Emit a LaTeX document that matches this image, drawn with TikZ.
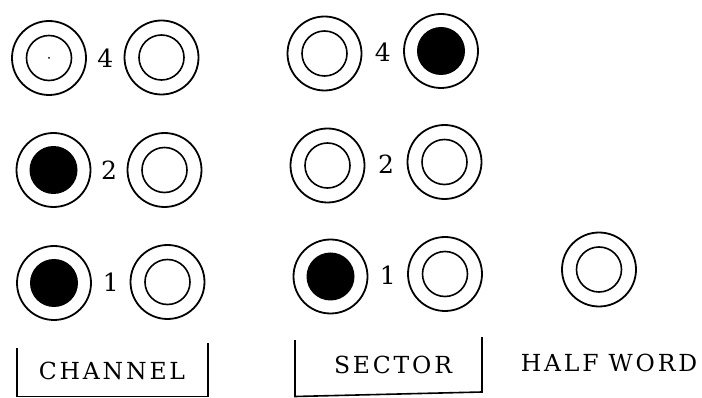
\documentclass[tikz,border=0pt]{standalone}
\usepackage{fontspec}
\setmainfont{DejaVu Serif}
\usetikzlibrary{positioning, calc}

\begin{document}
\begin{tikzpicture}[x=1pt, y=-1pt,
  lamp/.style={circle, draw, line width=1.8pt, minimum size=74pt, inner sep=0pt},
  off/.style={circle, draw, line width=1.6pt, minimum size=45pt, inner sep=0pt},
  on/.style={circle, fill=black, minimum size=48pt, inner sep=0pt},
  digit/.style={font=\fontsize{25}{25}\selectfont, inner sep=0pt},
  tag/.style={font=\fontsize{23.5}{23.5}\selectfont\addfontfeature{LetterSpace=12}, inner sep=0pt}]
  \useasboundingbox (0,0) rectangle (702,398);
  % channel
  \node[lamp] (c4l) at (49,58) {};
  \node[off] (c4lin) at (c4l) {};
  \fill (c4l) circle (1);
  \node[lamp] (c4r) at (161.5,57.5) {};
  \node[off] (c4rin) at (c4r) {};
  \node[lamp] (c2l) at (53.5,170) {};
  \node[on] (c2lin) at (c2l) {};
  \node[lamp] (c2r) at (164.5,170) {};
  \node[off] (c2rin) at (c2r) {};
  \node[lamp] (c1l) at (54,283) {};
  \node[on] (c1lin) at (c1l) {};
  \node[lamp] (c1r) at (167.5,282) {};
  \node[off] (c1rin) at (c1r) {};
  \node[digit] (c4) at ($(c4l)!0.5!(c4r)$) {4};
  \node[digit] (c2) at ($(c2l)!0.5!(c2r)$) {2};
  \node[digit] (c1) at ($(c1l)!0.5!(c1r)$) {1};
  % sector
  \node[lamp] (s4l) at (324.5,53.5) {};
  \node[off] (s4lin) at (s4l) {};
  \node[lamp] (s4r) at (441,51) {};
  \node[on] (s4rin) at (s4r) {};
  \node[lamp] (s2l) at (327.5,165.5) {};
  \node[off] (s2lin) at (s2l) {};
  \node[lamp] (s2r) at (444.5,162) {};
  \node[off] (s2rin) at (s2r) {};
  \node[lamp] (s1l) at (330.5,276.5) {};
  \node[on] (s1lin) at (s1l) {};
  \node[lamp] (s1r) at (445,274) {};
  \node[off] (s1rin) at (s1r) {};
  \node[digit] (s4) at ($(s4l)!0.5!(s4r)$) {4};
  \node[digit] (s2) at ($(s2l)!0.5!(s2r)$) {2};
  \node[digit] (s1) at ($(s1l)!0.5!(s1r)$) {1};
  % half word
  \node[lamp] (hw) at (599,269.5) {};
  \node[off] (hwin) at (hw) {};
  % labels
  \node[tag] (chan) at (112,371) {CHANNEL};
  \node[tag] (sect) at (393,365) {SECTOR};
  \node[tag] (half) at (609,363) {HALF\hspace{10pt}WORD};
  \draw[line width=1.6pt] (17,348) -- (17,396.5) -- (208,396.5) -- (208,343);
  \draw[line width=1.6pt] (295,340) -- (295,396.5) -- (482,392) -- (482,337);
\end{tikzpicture}
\end{document}
